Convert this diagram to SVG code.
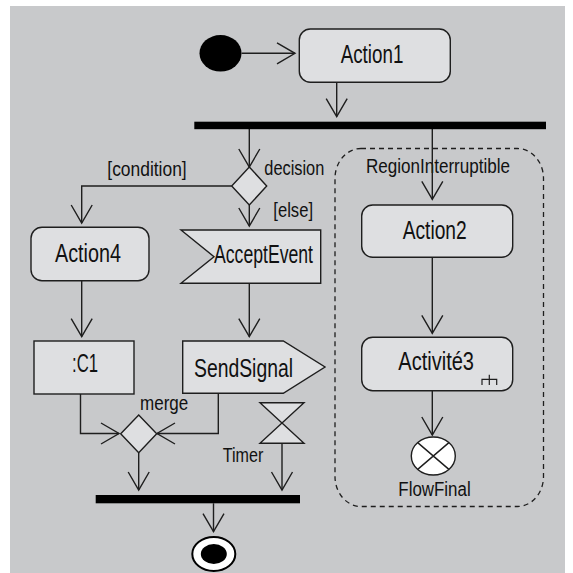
<svg xmlns="http://www.w3.org/2000/svg" width="573" height="573" viewBox="0 0 573 573">
<defs>
<style>
.bg{fill:#c8c9cb}
.node{fill:#dedfe1;stroke:#1e1e1e;stroke-width:1.4}
.bar{fill:#000}
.edge{fill:none;stroke:#1e1e1e;stroke-width:1.4}
.big{font-family:"Liberation Sans",Arial,sans-serif;font-size:26px;fill:#111}
.small{font-family:"Liberation Sans",Arial,sans-serif;font-size:20px;fill:#111}
</style>
<marker id="arr" markerUnits="userSpaceOnUse" markerWidth="22" markerHeight="24" refX="18" refY="10.5" orient="auto" overflow="visible">
<path d="M0,0 L18,10.5 L0,21" fill="none" stroke="#1e1e1e" stroke-width="1.4"/>
</marker>
</defs>
<rect class="bg" x="10" y="6" width="555" height="567"/>

<g id="region">
<rect x="335" y="148.5" width="208.5" height="358" rx="26" ry="30" fill="none" stroke="#1e1e1e" stroke-width="1.3" stroke-dasharray="5,4"/>
<text class="small" x="366" y="173.3" textLength="144" lengthAdjust="spacingAndGlyphs">RegionInterruptible</text>
</g>

<g id="edges">
<path class="edge" d="M241.7,53.3 L295,53.3" marker-end="url(#arr)"/>
<path class="edge" d="M336.7,82.3 L336.7,116.7" marker-end="url(#arr)"/>
<path class="edge" d="M249.3,129 L249.3,167" marker-end="url(#arr)"/>
<path class="edge" d="M231.7,186 L81.7,186 L81.7,223" marker-end="url(#arr)"/>
<path class="edge" d="M249.3,205 L249.3,226" marker-end="url(#arr)"/>
<path class="edge" d="M432.3,129 L432.3,199.3" marker-end="url(#arr)"/>
<path class="edge" d="M81.7,281 L81.7,336.7" marker-end="url(#arr)"/>
<path class="edge" d="M249.3,283.3 L249.3,336.7" marker-end="url(#arr)"/>
<path class="edge" d="M80.5,394 L80.5,433.5 L119,433.5" marker-end="url(#arr)"/>
<path class="edge" d="M218.3,393.3 L218.3,433.5 L157,433.5" marker-end="url(#arr)"/>
<path class="edge" d="M138.7,452.7 L138.7,490" marker-end="url(#arr)"/>
<path class="edge" d="M282,443.3 L282,490" marker-end="url(#arr)"/>
<path class="edge" d="M213.5,503.3 L213.5,531.7" marker-end="url(#arr)"/>
<path class="edge" d="M432.3,257.3 L432.3,333.3" marker-end="url(#arr)"/>
<path class="edge" d="M432.3,390.7 L432.3,435" marker-end="url(#arr)"/>
</g>

<g id="initial">
<ellipse cx="220.5" cy="53.3" rx="21" ry="18.3" fill="#000"/>
</g>

<g id="action1">
<rect class="node" x="299.3" y="29" width="151" height="53.3" rx="11" ry="11"/>
<text class="big" x="340.7" y="63.3" textLength="62.7" lengthAdjust="spacingAndGlyphs">Action1</text>
</g>

<g id="fork">
<rect class="bar" x="194.3" y="121.7" width="351.7" height="7.5"/>
</g>

<g id="decision">
<polygon class="node" points="249.3,167 266.7,186 249.3,205 231.7,186"/>
<text class="small" x="264.3" y="175" textLength="60" lengthAdjust="spacingAndGlyphs">decision</text>
<text class="small" x="107.3" y="175.7" textLength="79.4" lengthAdjust="spacingAndGlyphs">[condition]</text>
<text class="small" x="273.3" y="216.7" textLength="39.7" lengthAdjust="spacingAndGlyphs">[else]</text>
</g>

<g id="action4">
<rect class="node" x="31" y="227.3" width="118" height="53.5" rx="11" ry="11"/>
<text class="big" x="55" y="261.7" textLength="66" lengthAdjust="spacingAndGlyphs">Action4</text>
</g>

<g id="acceptEvent">
<polygon class="node" points="181,230 320.7,230 320.7,283.3 181,283.3 214,256.7"/>
<text class="big" x="214" y="262.7" textLength="99" lengthAdjust="spacingAndGlyphs">AcceptEvent</text>
</g>

<g id="c1">
<rect class="node" x="34" y="341" width="100" height="53"/>
<text class="big" x="72" y="371.7" textLength="26" lengthAdjust="spacingAndGlyphs">:C1</text>
</g>

<g id="sendSignal">
<polygon class="node" points="182.7,341 283.3,341 325,367 283.3,393.3 182.7,393.3"/>
<text class="big" x="194" y="376.7" textLength="99" lengthAdjust="spacingAndGlyphs">SendSignal</text>
</g>

<g id="merge">
<polygon class="node" points="138.7,415 156.7,433.8 138.7,452.7 120.7,433.8"/>
<text class="small" x="140" y="410" textLength="48.3" lengthAdjust="spacingAndGlyphs">merge</text>
</g>

<g id="timer">
<path class="node" d="M260,402.7 L304,402.7 L260,443.3 L304,443.3 Z"/>
<text class="small" x="222.7" y="461.7" textLength="40.6" lengthAdjust="spacingAndGlyphs">Timer</text>
</g>

<g id="join">
<rect class="bar" x="95.7" y="495" width="204.3" height="8.3"/>
</g>

<g id="final">
<ellipse cx="213.8" cy="554" rx="21.5" ry="17" fill="#fff" stroke="#000" stroke-width="2"/>
<ellipse cx="213.8" cy="554" rx="13" ry="10" fill="#000"/>
</g>

<g id="action2">
<rect class="node" x="361.7" y="205" width="151" height="52.3" rx="11" ry="11"/>
<text class="big" x="402.7" y="239" textLength="64" lengthAdjust="spacingAndGlyphs">Action2</text>
</g>

<g id="activite3">
<rect class="node" x="361.7" y="337.3" width="151" height="53.4" rx="11" ry="11"/>
<text class="big" x="398.3" y="370" textLength="75.7" lengthAdjust="spacingAndGlyphs">Activité3</text>
<path d="M482,385 L482,379.3 L496.7,379.3 L496.7,385 M489.3,374.7 L489.3,385" fill="none" stroke="#1e1e1e" stroke-width="1.2"/>
</g>

<g id="flowFinal">
<ellipse cx="433.3" cy="456" rx="22" ry="19" fill="#fff" stroke="#1e1e1e" stroke-width="1.4"/>
<path d="M417.7,442.6 L448.9,469.4 M448.9,442.6 L417.7,469.4" fill="none" stroke="#1e1e1e" stroke-width="1.4"/>
<text class="small" x="398.3" y="496" textLength="72.4" lengthAdjust="spacingAndGlyphs">FlowFinal</text>
</g>
</svg>
